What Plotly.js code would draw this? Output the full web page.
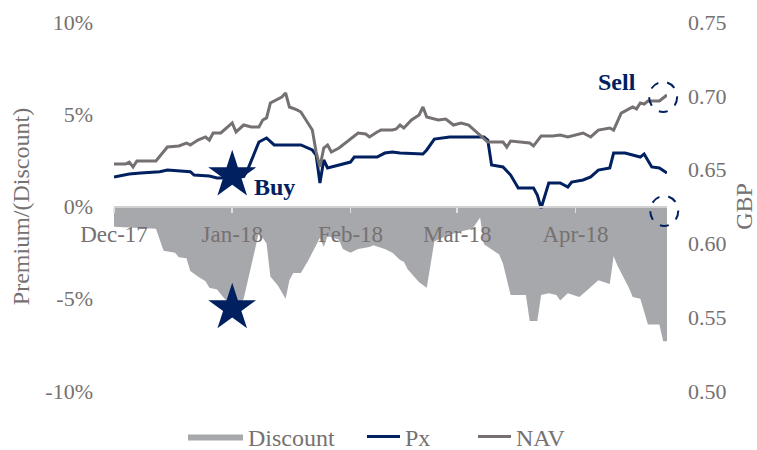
<!DOCTYPE html>
<html>
<head>
<meta charset="utf-8">
<script src="https://cdn.plot.ly/plotly-3.0.1.min.js"></script>
<style>
  html, body { margin: 0; padding: 0; background: #ffffff; }
  #chart { width: 757px; height: 450px; }
</style>
</head>
<body>
<div id="chart"></div>
<script>
// ---- Data ----
const discountDates = [
  '2017-12-01','2017-12-12','2017-12-14','2017-12-17','2017-12-18','2017-12-20','2017-12-21','2017-12-23',
  '2017-12-25','2017-12-26','2017-12-28','2017-12-30','2018-01-02','2018-01-04','2018-01-07','2018-01-08',
  '2018-01-10','2018-01-11','2018-01-13','2018-01-15','2018-01-16','2018-01-17','2018-01-19','2018-01-21',
  '2018-01-24','2018-01-25','2018-01-26','2018-01-29','2018-01-30','2018-02-01','2018-02-03','2018-02-06',
  '2018-02-07','2018-02-10','2018-02-12','2018-02-14','2018-02-15','2018-02-16','2018-02-19','2018-02-21',
  '2018-02-23','2018-02-25','2018-03-01','2018-03-05','2018-03-07','2018-03-08','2018-03-12','2018-03-13',
  '2018-03-15','2018-03-19','2018-03-20','2018-03-22','2018-03-23','2018-03-25','2018-03-27','2018-03-28',
  '2018-03-30','2018-04-02','2018-04-04','2018-04-07','2018-04-10','2018-04-11','2018-04-12','2018-04-15',
  '2018-04-16','2018-04-18','2018-04-20','2018-04-23','2018-04-24','2018-04-25'
];
const discountValues = [
  -1.1,-1.2,-2.4,-2.5,-2.75,-2.8,-3.5,-3.8,
  -4.05,-4.4,-4.5,-5.0,-5.6,-5.0,-2.3,-1.4,
  -2.0,-3.8,-4.3,-5.0,-4.0,-3.6,-3.6,-2.9,
  -1.7,-2.2,-1.6,-1.8,-2.3,-2.5,-2.3,-2.2,
  -2.1,-2.3,-2.5,-2.9,-3.0,-3.4,-4.1,-4.4,
  -1.9,-1.7,-1.4,-1.2,-0.6,-2.05,-2.6,-3.1,
  -4.8,-4.8,-6.2,-6.2,-4.8,-4.7,-4.8,-5.1,
  -4.7,-4.9,-4.55,-4.0,-4.2,-2.7,-3.2,-4.4,
  -4.9,-5.0,-6.4,-6.4,-7.3,-7.3
];

const pxDates = [
  '2017-12-01','2017-12-05','2017-12-08','2017-12-13','2017-12-15','2017-12-18','2017-12-21','2017-12-22',
  '2017-12-26','2017-12-28','2018-01-01','2018-01-04','2018-01-05','2018-01-08','2018-01-09','2018-01-10',
  '2018-01-12','2018-01-19','2018-01-22','2018-01-23','2018-01-24','2018-01-25','2018-01-26','2018-01-29',
  '2018-02-01','2018-02-02','2018-02-08','2018-02-10','2018-02-12','2018-02-14','2018-02-20','2018-02-21',
  '2018-02-23','2018-02-27','2018-03-08','2018-03-09','2018-03-10','2018-03-13','2018-03-15','2018-03-17',
  '2018-03-21','2018-03-22','2018-03-23','2018-03-25','2018-03-28','2018-03-30','2018-03-31','2018-04-03',
  '2018-04-05','2018-04-07','2018-04-10','2018-04-11','2018-04-14','2018-04-18','2018-04-19','2018-04-21',
  '2018-04-23','2018-04-25'
];
const pxValues = [
  0.645,0.647,0.6477,0.6486,0.6497,0.6493,0.6486,0.6463,
  0.6457,0.6443,0.6445,0.6452,0.6497,0.6687,0.670,0.6714,
  0.6667,0.6667,0.6633,0.6599,0.6409,0.6565,0.6511,0.6531,
  0.6551,0.6585,0.6585,0.6612,0.6619,0.6612,0.6606,0.6633,
  0.6707,0.6721,0.6721,0.670,0.6531,0.6518,0.6463,0.6375,
  0.6375,0.6328,0.624,0.6409,0.6409,0.6382,0.6416,0.643,
  0.645,0.6497,0.6511,0.6612,0.6612,0.6585,0.6606,0.6518,
  0.6511,0.6477
];

const navDates = [
  '2017-12-01','2017-12-04','2017-12-05','2017-12-06','2017-12-07','2017-12-12','2017-12-15','2017-12-18',
  '2017-12-20','2017-12-21','2017-12-23','2017-12-25','2017-12-26','2017-12-27','2017-12-29','2018-01-01',
  '2018-01-02','2018-01-04','2018-01-06','2018-01-08','2018-01-09','2018-01-10','2018-01-11','2018-01-14',
  '2018-01-15','2018-01-16','2018-01-18','2018-01-19','2018-01-22','2018-01-23','2018-01-24','2018-01-25',
  '2018-01-26','2018-01-27','2018-01-29','2018-01-31','2018-02-03','2018-02-05','2018-02-06','2018-02-08',
  '2018-02-09','2018-02-12','2018-02-13','2018-02-14','2018-02-15','2018-02-17','2018-02-19','2018-02-20',
  '2018-02-21','2018-02-24','2018-02-26','2018-02-28','2018-03-02','2018-03-04','2018-03-06','2018-03-09',
  '2018-03-13','2018-03-14','2018-03-15','2018-03-18','2018-03-20','2018-03-21','2018-03-23','2018-03-26',
  '2018-03-28','2018-03-30','2018-04-03','2018-04-05','2018-04-07','2018-04-10','2018-04-11','2018-04-13',
  '2018-04-16','2018-04-17','2018-04-18','2018-04-19','2018-04-20','2018-04-23','2018-04-25'
];
const navValues = [
  0.6538,0.6538,0.6551,0.6518,0.6558,0.6558,0.6653,0.666,
  0.668,0.6667,0.670,0.6721,0.670,0.6748,0.6748,0.6816,
  0.6755,0.6802,0.6789,0.6789,0.6836,0.685,0.6951,0.6992,
  0.7019,0.6924,0.6904,0.689,0.6768,0.6619,0.6518,0.6646,
  0.6667,0.6619,0.6646,0.6687,0.6748,0.6741,0.6721,0.6755,
  0.6768,0.6768,0.6775,0.6802,0.6782,0.6836,0.687,0.6924,
  0.6856,0.6836,0.6843,0.6802,0.6816,0.6802,0.6755,0.6687,
  0.6687,0.6653,0.6694,0.6687,0.668,0.666,0.6728,0.6728,
  0.6734,0.6721,0.6748,0.6721,0.6768,0.6782,0.6768,0.6883,
  0.6924,0.6911,0.6951,0.6944,0.6965,0.6965,0.7005
];

// Buy markers (star on price line and on the discount area)
const buyDate = ['2018-01-01'];
const buyPx = [0.6463];
const buyDiscount = [-5.5];

// Axis ticks
const monthTicks = ['2017-12-01','2018-01-01','2018-02-01','2018-03-01','2018-04-01'];
const monthLabels = ['Dec-17','Jan-18','Feb-18','Mar-18','Apr-18'];
const pctTickVals = [-10,-5,0,5,10];
const pctTickText = ['-10%','-5%','0%','5%','10%'];
const gbpTickVals = [0.50,0.55,0.60,0.65,0.70,0.75];
const gbpTickText = ['0.50','0.55','0.60','0.65','0.70','0.75'];

// ---- Styles ----
const NAVY = '#002060';
const GREY_LINE = '#767171';
const AREA = '#a7a8ac';
const TXT = '#767171';
const FONT = 'Liberation Serif, Times New Roman, serif';

const traces = [
  {
    name: 'Discount', x: discountDates, y: discountValues, type: 'scatter', mode: 'lines',
    fill: 'tozeroy', fillcolor: AREA, line: {width: 0, color: AREA}, yaxis: 'y', hoverinfo: 'skip',
    legend: 'legend'
  },
  {
    name: 'Px', x: pxDates, y: pxValues, type: 'scatter', mode: 'lines',
    line: {color: NAVY, width: 3}, yaxis: 'y2', legend: 'legend2'
  },
  {
    name: 'NAV', x: navDates, y: navValues, type: 'scatter', mode: 'lines',
    line: {color: GREY_LINE, width: 3}, yaxis: 'y2', legend: 'legend3'
  },
  {
    x: buyDate, y: buyPx, type: 'scatter', mode: 'markers', yaxis: 'y2', showlegend: false,
    marker: {symbol: 'star', size: 36, color: NAVY, line: {width: 0}}, cliponaxis: false
  },
  {
    x: buyDate, y: buyDiscount, type: 'scatter', mode: 'markers', yaxis: 'y', showlegend: false,
    marker: {symbol: 'star', size: 36, color: NAVY, line: {width: 0}}, cliponaxis: false
  }
];

const legendBase = {
  orientation: 'h', xref: 'container', yref: 'container',
  xanchor: 'left', y: 0.029, yanchor: 'middle',
  font: {family: FONT, size: 24, color: TXT}, bgcolor: 'rgba(0,0,0,0)'
};

const layout = {
  width: 757, height: 450,
  margin: {l: 114, r: 90, t: 22, b: 59},
  paper_bgcolor: '#ffffff', plot_bgcolor: '#ffffff',
  font: {family: FONT, size: 22, color: TXT},
  showlegend: true,
  legend: Object.assign({}, legendBase, {x: 183 / 757, itemwidth: 55}),
  legend2: Object.assign({}, legendBase, {x: 362 / 757, itemwidth: 33}),
  legend3: Object.assign({}, legendBase, {x: 473 / 757, itemwidth: 33}),
  xaxis: {
    type: 'date', range: ['2017-12-01', '2018-04-25'],
    anchor: 'free', position: 0.5,
    tickmode: 'array', tickvals: monthTicks, ticktext: monthLabels,
    ticks: 'outside', ticklen: 5, tickwidth: 1.5, tickcolor: '#e0e0e0',
    showline: true, linecolor: '#d0d0d0', linewidth: 2,
    showgrid: false, zeroline: false,
    tickfont: {family: FONT, size: 23, color: TXT}, ticklabelstandoff: 2
  },
  yaxis: {
    range: [-10, 10], tickmode: 'array', tickvals: pctTickVals, ticktext: pctTickText,
    showgrid: false, zeroline: false, showline: false, ticks: '',
    tickfont: {family: FONT, size: 22, color: TXT}, ticklabelstandoff: 20,
    title: {text: 'Premium/(Discount)', font: {family: FONT, size: 24, color: TXT}, standoff: 8}
  },
  yaxis2: {
    range: [0.5, 0.75], overlaying: 'y', side: 'right',
    tickmode: 'array', tickvals: gbpTickVals, ticktext: gbpTickText,
    showgrid: false, zeroline: false, showline: false, ticks: '',
    tickfont: {family: FONT, size: 22, color: TXT}, ticklabelstandoff: 20,
    title: {text: 'GBP', font: {family: FONT, size: 24, color: TXT}, standoff: 10}
  },
  annotations: [
    {text: '<b>Buy</b>', xref: 'x', yref: 'y2', x: '2018-01-12', y: 0.6382, showarrow: false,
     font: {family: FONT, size: 24, color: NAVY}},
    {text: '<b>Sell</b>', xref: 'x', yref: 'y2', x: '2018-04-12', y: 0.7093, showarrow: false,
     font: {family: FONT, size: 24, color: NAVY}}
  ],
  shapes: [
    {type: 'circle', xref: 'paper', yref: 'paper', xsizemode: 'pixel', ysizemode: 'pixel',
     xanchor: 0.993, yanchor: 0.797, x0: -14, x1: 14, y0: -15, y1: 15,
     line: {color: NAVY, width: 2, dash: 'dash'}, layer: 'above'},
    {type: 'circle', xref: 'paper', yref: 'paper', xsizemode: 'pixel', ysizemode: 'pixel',
     xanchor: 0.995, yanchor: 0.488, x0: -14, x1: 14, y0: -15, y1: 15,
     line: {color: NAVY, width: 2, dash: 'dash'}, layer: 'above'}
  ]
};

Plotly.newPlot('chart', traces, layout, {displayModeBar: false, staticPlot: true});
</script>
</body>
</html>
